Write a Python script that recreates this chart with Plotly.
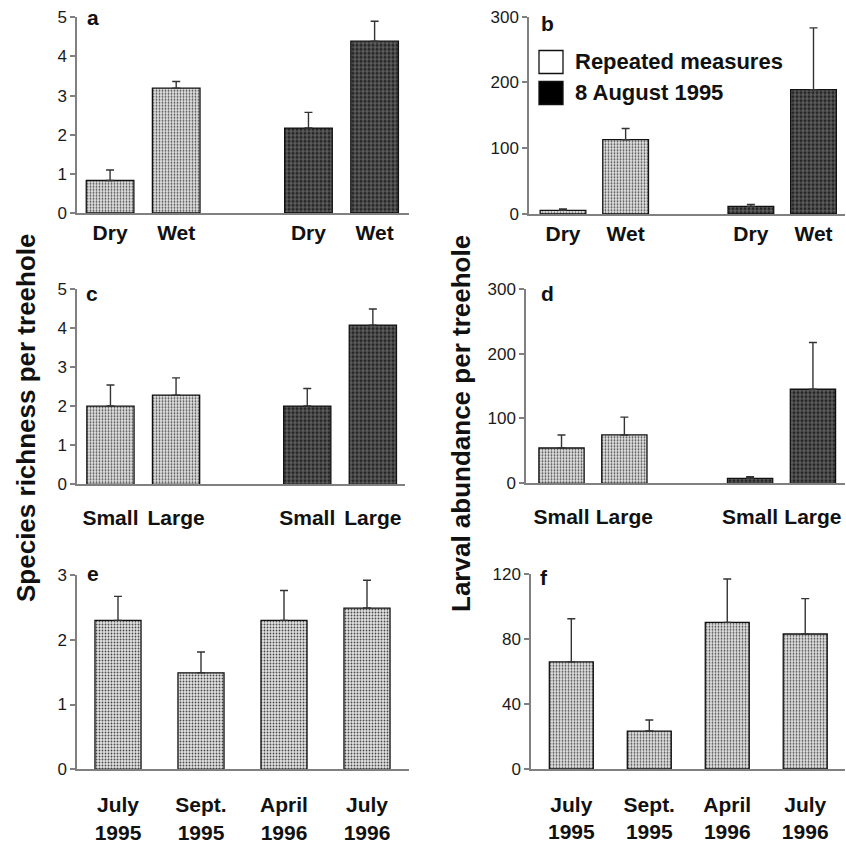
import plotly.graph_objects as go

# ---- data -------------------------------------------------------------
cond_labels = ["Dry", "Wet"]
size_labels = ["Small", "Large"]
date_labels = ["July<br>1995", "Sept.<br>1995", "April<br>1996", "July<br>1996"]

rich_cond_rep = [0.83, 3.19]
rich_cond_rep_se = [0.27, 0.17]
rich_cond_aug = [2.17, 4.39]
rich_cond_aug_se = [0.40, 0.51]

abun_cond_rep = [5.6, 113]
abun_cond_rep_se = [2.0, 17]
abun_cond_aug = [11.7, 189]
abun_cond_aug_se = [3.0, 94]

rich_size_rep = [2.0, 2.28]
rich_size_rep_se = [0.54, 0.44]
rich_size_aug = [2.0, 4.07]
rich_size_aug_se = [0.45, 0.41]

abun_size_rep = [54.4, 74.5]
abun_size_rep_se = [20, 27.5]
abun_size_aug = [7.7, 145]
abun_size_aug_se = [2.3, 72]

rich_date = [2.3, 1.49, 2.3, 2.49]
rich_date_se = [0.37, 0.32, 0.46, 0.43]
abun_date = [66, 23.4, 90.4, 83.2]
abun_date_se = [26.6, 6.8, 26.7, 21.8]

# ---- styling ----------------------------------------------------------
W, H = 846, 845
FONT = "Arial, Liberation Sans, sans-serif"
AXIS_GREY = "#808080"

light_pattern = dict(shape=".", fgcolor="#4a4a4a", bgcolor="#e2e2e2",
                     size=3, solidity=0.3, fillmode="replace")
dark_pattern = dict(shape="+", fgcolor="#8a8a8a", bgcolor="#262626",
                    size=4, solidity=0.3, fillmode="replace")


def px_x(v):
    return v / W


def px_y(v):
    return 1 - v / H


fig = go.Figure()

# panel definitions: axis suffix, x/y domains in px, ranges, tick step, bar width
panels = {
    "a": dict(n="", xd=(77, 409), yd=(17.3, 213), xr=(0.5, 5.52), yr=(0, 5), dt=1, bw=0.72),
    "b": dict(n="2", xd=(529, 845), yd=(16.7, 214), xr=(0.457, 5.503), yr=(0, 300), dt=100, bw=0.73),
    "c": dict(n="3", xd=(77, 405), yd=(288.7, 484.3), xr=(0.49, 5.49), yr=(0, 5), dt=1, bw=0.72),
    "d": dict(n="4", xd=(526, 845), yd=(288.7, 483.3), xr=(0.435, 5.51), yr=(0, 300), dt=100, bw=0.72),
    "e": dict(n="5", xd=(77, 409), yd=(575, 769.3), xr=(0.506, 4.506), yr=(0, 3), dt=1, bw=0.555),
    "f": dict(n="6", xd=(531, 845), yd=(574.3, 769), xr=(0.483, 4.51), yr=(0, 120), dt=40, bw=0.564),
}


def add_bars(panel, xs, ys, se, pattern):
    p = panels[panel]
    fig.add_trace(go.Bar(
        x=xs, y=ys, width=p["bw"],
        xaxis="x" + p["n"], yaxis="y" + p["n"],
        marker=dict(color=pattern["bgcolor"], pattern=pattern,
                    line=dict(color="#111111", width=1.3)),
        error_y=dict(type="data", array=se, arrayminus=[0] * len(se),
                     symmetric=False, color="#333333", thickness=1.4, width=4),
        showlegend=False,
    ))


# two groups of two bars separated by an empty slot
grp1 = [1, 2]
grp2 = [4, 5]
dates_x = list(range(1, len(date_labels) + 1))

add_bars("a", grp1, rich_cond_rep, rich_cond_rep_se, light_pattern)
add_bars("a", grp2, rich_cond_aug, rich_cond_aug_se, dark_pattern)
add_bars("b", grp1, abun_cond_rep, abun_cond_rep_se, light_pattern)
add_bars("b", grp2, abun_cond_aug, abun_cond_aug_se, dark_pattern)
add_bars("c", grp1, rich_size_rep, rich_size_rep_se, light_pattern)
add_bars("c", grp2, rich_size_aug, rich_size_aug_se, dark_pattern)
add_bars("d", grp1, abun_size_rep, abun_size_rep_se, light_pattern)
add_bars("d", grp2, abun_size_aug, abun_size_aug_se, dark_pattern)
add_bars("e", dates_x, rich_date, rich_date_se, light_pattern)
add_bars("f", dates_x, abun_date, abun_date_se, light_pattern)

tick_setup = {
    "a": (grp1 + grp2, cond_labels * 2, 0),
    "b": (grp1 + grp2, cond_labels * 2, 0),
    "c": (grp1 + grp2, size_labels * 2, 14),
    "d": (grp1 + grp2, size_labels * 2, 14),
    "e": (dates_x, date_labels, 16),
    "f": (dates_x, date_labels, 16),
}

layout = dict(
    width=W, height=H, margin=dict(l=0, r=0, t=0, b=0),
    paper_bgcolor="white", plot_bgcolor="white",
    barmode="overlay", font=dict(family=FONT, color="#1a1a1a"),
)

for key, p in panels.items():
    n = p["n"]
    tv, tt, standoff = tick_setup[key]
    layout["xaxis" + n] = dict(
        domain=[px_x(p["xd"][0]), px_x(p["xd"][1])], range=list(p["xr"]),
        anchor="y" + n, showline=True, linecolor=AXIS_GREY, linewidth=1.5,
        showgrid=False, zeroline=False, ticks="",
        tickmode="array", tickvals=tv, ticktext=["<b>%s</b>" % t for t in tt],
        tickfont=dict(size=21, family=FONT, color="#111111"),
        ticklabelstandoff=standoff, automargin=False, fixedrange=True,
    )
    layout["yaxis" + n] = dict(
        domain=[px_y(p["yd"][1]), px_y(p["yd"][0])], range=list(p["yr"]),
        anchor="x" + n, showline=True, linecolor=AXIS_GREY, linewidth=1.5,
        showgrid=False, zeroline=False, ticks="outside", ticklen=5,
        tickcolor=AXIS_GREY, tickwidth=1.5, dtick=p["dt"], tick0=0,
        tickfont=dict(size=17, family=FONT, color="#1a1a1a"),
        automargin=False, fixedrange=True,
    )

annotations = []
# panel letters
letter_pos = {"a": (93, 17), "b": (547, 23), "c": (92, 293), "d": (547, 293),
              "e": (93, 573), "f": (544, 577)}
for k, (lx, ly) in letter_pos.items():
    annotations.append(dict(
        x=px_x(lx), y=px_y(ly), xref="paper", yref="paper", text="<b>%s</b>" % k,
        showarrow=False, font=dict(size=21, family=FONT, color="#111111"),
        xanchor="center", yanchor="middle"))

# y-axis titles
annotations.append(dict(
    x=px_x(26), y=px_y(418), xref="paper", yref="paper",
    text="<b>Species richness per treehole</b>", textangle=-90, showarrow=False,
    font=dict(size=26, family=FONT, color="#111111"), xanchor="center", yanchor="middle"))
annotations.append(dict(
    x=px_x(461), y=px_y(423), xref="paper", yref="paper",
    text="<b>Larval abundance per treehole</b>", textangle=-90, showarrow=False,
    font=dict(size=26, family=FONT, color="#111111"), xanchor="center", yanchor="middle"))

# legend inside panel b
legend_items = [("Repeated measures", "white", 62), ("8 August 1995", "black", 93)]
shapes = []
for label, col, cy in legend_items:
    shapes.append(dict(type="rect", xref="paper", yref="paper",
                       x0=px_x(539), x1=px_x(563), y0=px_y(cy + 11.5), y1=px_y(cy - 11.5),
                       line=dict(color="#111111", width=1.3), fillcolor=col))
    annotations.append(dict(
        x=px_x(573), y=px_y(cy), xref="paper", yref="paper", text="<b>%s</b>" % label,
        showarrow=False, font=dict(size=22, family=FONT, color="#111111"),
        xanchor="left", yanchor="middle"))

layout["annotations"] = annotations
layout["shapes"] = shapes
fig.update_layout(**layout)

fig.write_html("out.html")
